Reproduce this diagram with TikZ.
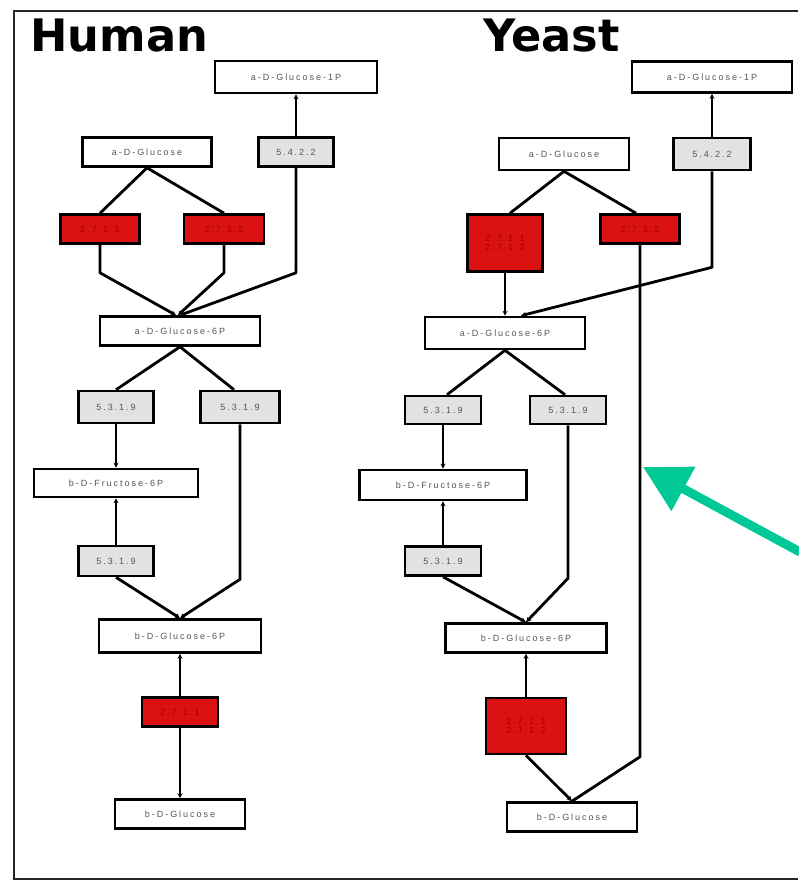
\documentclass[tikz,border=0pt]{standalone}
\usepackage{fontspec}
\setmainfont{Liberation Sans}
\newfontfamily\titlefont{DejaVu Sans}
\newfontfamily\labelfont{Liberation Sans}[LetterSpace=22]
\usetikzlibrary{arrows.meta,calc}

\definecolor{enzred}{RGB}{218,18,18}
\definecolor{enztext}{RGB}{165,0,0}
\definecolor{ecgray}{RGB}{226,226,226}
\definecolor{labelgray}{RGB}{85,85,85}
\definecolor{pointgreen}{RGB}{0,200,150}

\tikzset{
  box/.style={draw=black, line width=2.6pt, rectangle, inner sep=1pt,
    font=\labelfont\fontsize{9}{9.5}\selectfont, text=labelgray, align=center},
  metab/.style={box, fill=white},
  ecbox/.style={box, fill=ecgray},
  enzbox/.style={box, fill=enzred, text=enztext},
  link/.style={draw=black, line width=2.8pt, line join=round},
  tip/.style={-{Stealth[length=5pt,width=5pt]}},
  pointer/.style={draw=pointgreen, line width=9pt,
    -{Triangle[length=46pt,width=48pt]}},
  heading/.style={font=\titlefont\bfseries\fontsize{44.7}{50}\selectfont,
    inner sep=0pt, anchor=base west}
}

\begin{document}
\begin{tikzpicture}[x=1pt,y=-1pt]
\useasboundingbox (0,0) rectangle (798,881);
\fill[white] (0,0) rectangle (798,881);

% outer frame
\draw[line width=2.4pt, black!85] (798,11) -- (14,11) -- (14,879) -- (798,879);

% headings
\node[heading] (thuman) at (30,51) {Human};
\node[heading] (tyeast) at (483,51) {Yeast};

% ---------- human pathway ----------
\node[metab, minimum width=162pt, minimum height=32pt] (h1p)   at (296,77)  {a-D-Glucose-1P};
\node[metab, minimum width=129pt, minimum height=29pt] (hglc)  at (147,152) {a-D-Glucose};
\node[ecbox, minimum width=75pt,  minimum height=29pt] (h5422) at (296,152) {5.4.2.2};
\node[enzbox, minimum width=79pt, minimum height=29pt] (hr1)   at (100,229) {2.7.1.1};
\node[enzbox, minimum width=80pt, minimum height=29pt] (hr2)   at (224,229) {2.7.1.2};
\node[metab, minimum width=160pt, minimum height=29pt] (h6p)   at (180,331) {a-D-Glucose-6P};
\node[ecbox, minimum width=75pt,  minimum height=32pt] (hs1)   at (116,407) {5.3.1.9};
\node[ecbox, minimum width=79pt,  minimum height=32pt] (hs2)   at (240,407) {5.3.1.9};
\node[metab, minimum width=164pt, minimum height=28pt] (hf6p)  at (116,483) {b-D-Fructose-6P};
\node[ecbox, minimum width=75pt,  minimum height=30pt] (hs3)   at (116,561) {5.3.1.9};
\node[metab, minimum width=162pt, minimum height=33pt] (hb6p)  at (180,636) {b-D-Glucose-6P};
\node[enzbox, minimum width=76pt, minimum height=29pt] (hr3)   at (180,712) {2.7.1.1};
\node[metab, minimum width=130pt, minimum height=29pt] (hbglc) at (180,814) {b-D-Glucose};

\draw[link,tip] (h5422) -- (h1p);
\draw[link] (hglc.south) -- (hr1.north);
\draw[link] (hglc.south) -- (hr2.north);
\draw[link,tip] (hr1.south) -- ++(0,28) -- ($(h6p.north)+(-4,0)$);
\draw[link,tip] (hr2.south) -- ++(0,28) -- ($(h6p.north)+(-2,0)$);
\draw[link,tip] (h5422.south) -- ++(0,105) -- ($(h6p.north)+(0,0)$);
\draw[link] (h6p.south) -- (hs1.north);
\draw[link] (h6p.south) -- ($(hs2.north)+(-6,0)$);
\draw[link,tip] (hs1) -- (hf6p);
\draw[link,tip] (hs3) -- (hf6p);
\draw[link,tip] (hs2.south) -- ++(0,155) -- (hb6p.north);
\draw[link,tip] (hs3.south) -- (hb6p.north);
\draw[link,tip] (hr3) -- (hb6p);
\draw[link,tip] (hr3) -- (hbglc);

% ---------- yeast pathway ----------
\node[metab, minimum width=160pt, minimum height=31pt] (y1p)   at (712,77)  {a-D-Glucose-1P};
\node[metab, minimum width=130pt, minimum height=32pt] (yglc)  at (564,154) {a-D-Glucose};
\node[ecbox, minimum width=77pt,  minimum height=32pt] (y5422) at (712,154) {5.4.2.2};
\node[enzbox, minimum width=75pt, minimum height=57pt] (yr1)   at (505,243) {2.7.1.1\\2.7.1.2};
\node[enzbox, minimum width=79pt, minimum height=29pt] (yr2)   at (640,229) {2.7.1.2};
\node[metab, minimum width=160pt, minimum height=32pt] (y6p)   at (505,333) {a-D-Glucose-6P};
\node[ecbox, minimum width=76pt,  minimum height=28pt] (ys1)   at (443,410) {5.3.1.9};
\node[ecbox, minimum width=76pt,  minimum height=28pt] (ys2)   at (568,410) {5.3.1.9};
\node[metab, minimum width=167pt, minimum height=30pt] (yf6p)  at (443,485) {b-D-Fructose-6P};
\node[ecbox, minimum width=76pt,  minimum height=29pt] (ys3)   at (443,561) {5.3.1.9};
\node[metab, minimum width=161pt, minimum height=29pt] (yb6p)  at (526,638) {b-D-Glucose-6P};
\node[enzbox, minimum width=80pt, minimum height=56pt] (yr3)   at (526,726) {2.7.1.1\\2.7.1.2};
\node[metab, minimum width=130pt, minimum height=29pt] (ybglc) at (572,817) {b-D-Glucose};

\draw[link,tip] (y5422) -- (y1p);
\draw[link] (yglc.south) -- ($(yr1.north)+(5,0)$);
\draw[link] (yglc.south) -- ($(yr2.north)+(-4,0)$);
\draw[link,tip] (yr1) -- (y6p);
\draw[link,tip] (y5422.south) -- ++(0,96) -- ($(y6p.north)+(16,0)$);
\draw[link] (yr2.south) -- ++(0,512) -- (ybglc.north);
\draw[link] (y6p.south) -- ($(ys1.north)+(4,0)$);
\draw[link] (y6p.south) -- ($(ys2.north)+(-3,0)$);
\draw[link,tip] (ys1) -- (yf6p);
\draw[link,tip] (ys3) -- (yf6p);
\draw[link,tip] (ys2.south) -- ++(0,153) -- (yb6p.north);
\draw[link,tip] (ys3.south) -- (yb6p.north);
\draw[link,tip] (yr3) -- (yb6p);
\draw[link,tip] (yr3.south) -- (ybglc.north);

% green pointer at the yeast bypass line
\coordinate (gtail) at (800,552);
\coordinate (gtip) at (643,467);
\draw[pointer] (gtail) -- (gtip);
\end{tikzpicture}
\end{document}
